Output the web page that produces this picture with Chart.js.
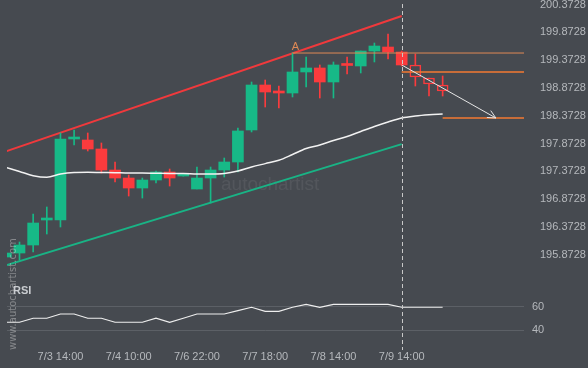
<!DOCTYPE html>
<html>
<head>
<meta charset="utf-8">
<script src="https://cdn.jsdelivr.net/npm/chart.js@4.4.0/dist/chart.umd.min.js"></script>
<style>
  html, body { margin: 0; background: #464a50; }
  #wrap { width: 588px; height: 368px; }
</style>
</head>
<body>
<div id="wrap"><canvas id="chart"></canvas></div>
<script>
// candle data (4h bars, index 0 is cut by the left edge)
const opens  = [195.831, 195.903, 196.047, 196.497, 196.497, 197.954, 197.936, 197.774, 197.396, 197.252, 197.072, 197.216, 197.360, 197.288, 197.054, 197.252, 197.396, 197.540, 198.116, 198.925, 198.799, 198.781, 199.159, 199.231, 198.979, 199.285, 199.267, 199.536, 199.608, 199.518, 199.285, 199.051, 198.925];
const highs  = [195.921, 196.101, 196.605, 196.731, 198.062, 198.116, 198.062, 197.882, 197.540, 197.306, 197.252, 197.378, 197.414, 197.296, 197.450, 197.450, 197.612, 198.152, 198.979, 199.015, 198.907, 199.500, 199.429, 199.285, 199.339, 199.429, 199.536, 199.680, 199.842, 199.536, 199.482, 199.051, 199.087];
const lows   = [195.813, 195.777, 195.921, 196.245, 196.371, 197.846, 197.738, 197.342, 197.180, 196.928, 196.892, 197.162, 197.108, 197.286, 197.054, 196.802, 197.270, 197.360, 198.080, 198.529, 198.511, 198.709, 198.889, 198.691, 198.691, 199.123, 199.141, 199.339, 199.392, 199.267, 198.907, 198.727, 198.727];
const closes = [195.903, 196.047, 196.443, 196.506, 197.954, 197.960, 197.774, 197.396, 197.252, 197.072, 197.216, 197.360, 197.252, 197.294, 197.252, 197.396, 197.540, 198.098, 198.925, 198.799, 198.781, 199.159, 199.231, 198.979, 199.285, 199.276, 199.536, 199.626, 199.518, 199.285, 199.069, 198.943, 198.817];
const maValues = [197.441, 197.369, 197.294, 197.265, 197.324, 197.351, 197.355, 197.351, 197.348, 197.342, 197.342, 197.337, 197.333, 197.333, 197.324, 197.324, 197.333, 197.378, 197.450, 197.511, 197.571, 197.675, 197.783, 197.846, 197.927, 197.999, 198.089, 198.178, 198.259, 198.331, 198.367, 198.389, 198.403];
const rsiValues = [46.8, 46.8, 50.2, 50.2, 53.8, 53.8, 50.2, 50.2, 46.8, 46.8, 46.8, 50.2, 46.8, 50.2, 53.8, 53.8, 53.8, 56.6, 59.5, 56.1, 56.1, 59.5, 62, 59.5, 62, 62, 62, 62, 62, 59.5, 59.5, 59.5, 59.5];

const tickIdx = [4, 9, 14, 19, 24, 29];
const tickLabels = ['7/3 14:00', '7/4 10:00', '7/6 22:00', '7/7 18:00', '7/8 14:00', '7/9 14:00'];
const priceTicks = [200.3728, 199.8728, 199.3728, 198.8728, 198.3728, 197.8728, 197.3728, 196.8728, 196.3728, 195.8728];
const rsiTicks = [40, 60];

// pattern: channel, breakout and forecast
const channelTop = [197.731, 200.165];
const channelBottom = [195.681, 197.862];
const channelEnd = 29;
const patternStart = 30;      // candles drawn hollow after the breakout
const levelA = 199.500, levelAStart = 21;
const levelB = 199.159;
const levelC = 198.331, levelCStart = 32;
const arrowFrom = [29, 199.285];
const arrowTo = [35.9, 198.331];

const GREEN = '#17b987';
const RED = '#fb3b3d';
const BG = '#464a50';
const TXT = '#b5b8bc';

Chart.defaults.font.family = "'Liberation Sans', Arial, sans-serif";
Chart.defaults.font.size = 11;

const idx = opens.map((_, i) => i);
const candleColor = idx.map(i => closes[i] >= opens[i] ? GREEN : RED);

const overlay = {
  id: 'overlay',
  beforeDatasetsDraw(chart) {
    const { ctx } = chart;
    ctx.save();
    ctx.fillStyle = 'rgba(255,255,255,0.07)';
    ctx.font = "19px 'Liberation Sans', Arial";
    ctx.textBaseline = 'middle';
    ctx.fillText('autochartist', 221, 185);
    ctx.restore();
  },
  afterDatasetsDraw(chart) {
    const { ctx, chartArea: a, scales: { x, y } } = chart;
    ctx.save();
    // breakout marker
    const dx = Math.round(x.getPixelForValue(channelEnd)) + 0.5;
    ctx.strokeStyle = '#c8c8c8';
    ctx.lineWidth = 1;
    ctx.setLineDash([4, 3]);
    ctx.beginPath();
    ctx.moveTo(dx, a.top + 4);
    ctx.lineTo(dx, a.bottom);
    ctx.stroke();
    ctx.setLineDash([]);

    // arrow head
    const x0 = x.getPixelForValue(arrowFrom[0]), y0 = y.getPixelForValue(arrowFrom[1]);
    const x1 = x.getPixelForValue(arrowTo[0]), y1 = y.getPixelForValue(arrowTo[1]);
    const ang = Math.atan2(y1 - y0, x1 - x0);
    ctx.strokeStyle = '#e6e6e6';
    ctx.beginPath();
    ctx.moveTo(x1 - 9 * Math.cos(ang - 0.45), y1 - 9 * Math.sin(ang - 0.45));
    ctx.lineTo(x1, y1);
    ctx.lineTo(x1 - 9 * Math.cos(ang + 0.45), y1 - 9 * Math.sin(ang + 0.45));
    ctx.stroke();

    // "A" point
    ctx.fillStyle = '#e08a55';
    ctx.font = "11px 'Liberation Sans', Arial";
    ctx.textAlign = 'center';
    ctx.textBaseline = 'bottom';
    ctx.fillText('A', x.getPixelForValue(levelAStart) + 3, y.getPixelForValue(levelA) - 0.5);

    // RSI title
    ctx.fillStyle = '#c9ccd0';
    ctx.font = "bold 11px 'Liberation Sans', Arial";
    ctx.textAlign = 'left';
    ctx.textBaseline = 'middle';
    ctx.fillText('RSI', a.left + 6, 291);

    // vertical watermark
    ctx.translate(13, 350);
    ctx.rotate(-Math.PI / 2);
    ctx.fillStyle = 'rgba(210,210,210,0.45)';
    ctx.font = "10px 'DejaVu Sans', sans-serif";
    ctx.textAlign = 'left';
    ctx.fillText('www.autochartist.com', 0, 0);
    ctx.restore();
  }
};

const line2 = (x0, x1, v) => [{ x: x0, y: v[0] }, { x: x1, y: v[1] }];

new Chart(document.getElementById('chart'), {
  data: {
    datasets: [
      {
        type: 'line', order: -3, data: line2(arrowFrom[0], arrowTo[0], [arrowFrom[1], arrowTo[1]]),
        borderColor: '#e6e6e6', borderWidth: 1, pointRadius: 0, yAxisID: 'y'
      },
      {
        type: 'line', order: -2, data: [{ x: levelAStart, y: levelA }, { x: 40, y: levelA }],
        borderColor: '#e08a55', borderWidth: 1, pointRadius: 0, yAxisID: 'y'
      },
      {
        type: 'line', order: -2, data: [{ x: channelEnd, y: levelB }, { x: 40, y: levelB }],
        borderColor: '#f47a32', borderWidth: 1.5, pointRadius: 0, yAxisID: 'y'
      },
      {
        type: 'line', order: -2, data: [{ x: levelCStart, y: levelC }, { x: 40, y: levelC }],
        borderColor: '#f47a32', borderWidth: 1.5, pointRadius: 0, yAxisID: 'y'
      },
      {
        type: 'line', order: -1, data: idx.map(i => ({ x: i, y: maValues[i] })),
        borderColor: '#f2f2f2', borderWidth: 1.5, pointRadius: 0, cubicInterpolationMode: 'monotone', yAxisID: 'y'
      },
      {
        type: 'bar', order: 1, grouped: false, barThickness: 11, minBarLength: 2,
        data: idx.map(i => ({ x: i, y: [opens[i], closes[i]] })),
        backgroundColor: idx.map(i => i >= patternStart ? BG : candleColor[i]),
        borderColor: candleColor,
        borderWidth: idx.map(i => i >= patternStart ? 1.5 : 0),
        borderSkipped: false, yAxisID: 'y'
      },
      {
        type: 'bar', order: 2, grouped: false, barThickness: 1,
        data: idx.map(i => ({ x: i, y: [lows[i], highs[i]] })),
        backgroundColor: candleColor, yAxisID: 'y'
      },
      {
        type: 'line', order: 3, data: line2(0, channelEnd, channelTop),
        borderColor: '#f0393c', borderWidth: 2, pointRadius: 0, yAxisID: 'y'
      },
      {
        type: 'line', order: 3, data: line2(0, channelEnd, channelBottom),
        borderColor: '#19b385', borderWidth: 2, pointRadius: 0, yAxisID: 'y'
      },
      {
        type: 'line', order: 0, data: idx.map(i => ({ x: i, y: rsiValues[i] })),
        borderColor: '#eeeeee', borderWidth: 1.2, pointRadius: 0, yAxisID: 'y2'
      }
    ]
  },
  options: {
    responsive: true,
    maintainAspectRatio: false,
    animation: false,
    layout: { padding: { left: 7, top: 0, right: 0, bottom: 0 } },
    plugins: { legend: { display: false }, tooltip: { enabled: false } },
    scales: {
      x: {
        type: 'linear', min: 0.084, max: 37.96, offset: false,
        grid: { display: false, drawTicks: false }, border: { display: false },
        afterBuildTicks: s => { s.ticks = tickIdx.map(v => ({ value: v })); },
        afterFit: s => { s.height = 18; s.paddingLeft = 0; s.paddingRight = 0; },
        ticks: {
          autoSkip: false, maxRotation: 0, padding: 0, color: TXT,
          callback: v => tickLabels[tickIdx.indexOf(v)]
        }
      },
      y: {
        position: 'right', stack: 'panes', stackWeight: 280,
        min: 195.4178, max: 200.4537,
        grid: { display: false }, border: { display: false },
        afterBuildTicks: s => { s.ticks = priceTicks.map(v => ({ value: v })); },
        afterFit: s => { s.width = 64; s.paddingTop = 0; s.paddingBottom = 0; },
        ticks: { padding: 8, color: TXT, callback: v => v.toFixed(4) }
      },
      y2: {
        position: 'right', stack: 'panes', stackWeight: 70,
        min: 23.3, max: 82.6,
        grid: { color: '#5c6066', drawTicks: false }, border: { display: false },
        afterBuildTicks: s => { s.ticks = rsiTicks.map(v => ({ value: v })); },
        afterFit: s => { s.width = 64; s.paddingTop = 0; s.paddingBottom = 0; },
        ticks: { padding: 8, color: TXT }
      }
    }
  },
  plugins: [overlay]
});
</script>
</body>
</html>
